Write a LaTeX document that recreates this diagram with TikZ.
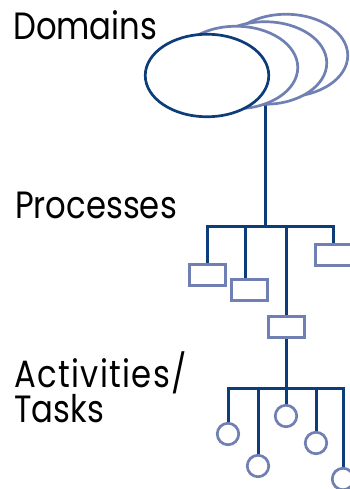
\documentclass[tikz,border=0pt]{standalone}
\usepackage{fontspec}
\setmainfont{Poppins}[FakeStretch=0.85]
\usetikzlibrary{shapes.geometric}
\pgfdeclarelayer{background}
\pgfsetlayers{background,main}
\definecolor{navy}{RGB}{12,60,122}
\definecolor{slate}{RGB}{112,128,178}
\begin{document}
\begin{tikzpicture}[x=1pt,y=-1pt,
  levellabel/.style={font=\fontsize{38}{38}\selectfont, text=black, inner sep=0pt, anchor=base west},
  domainshape/.style={ellipse, draw=slate, line width=2.7pt, fill=white, minimum width=123.5pt, minimum height=82.5pt, inner sep=0pt},
  frontdomain/.style={domainshape, draw=navy},
  procbox/.style={rectangle, draw=slate, line width=3pt, fill=white, minimum width=36pt, minimum height=21pt, inner sep=0pt},
  taskdot/.style={circle, draw=slate, line width=2.7pt, fill=white, minimum size=21.5pt, inner sep=0pt},
  link/.style={draw=navy, line width=3pt}]
\useasboundingbox (0,0) rectangle (350,489);

% level labels
\node[levellabel] (ldom) at (13,40) {Domains};
\node[levellabel] (lproc) at (15,218) {Processes};
\node[levellabel] (lact) at (14,387) {\addfontfeature{LetterSpace=3.5}Activities/};
\node[levellabel] (ltask) at (14,422) {Tasks};

% stack of domains, back to front
\node[domainshape] (d4) at (286,55.5) {};
\node[domainshape] (d3) at (265,63) {};
\node[domainshape] (d2) at (236,67.5) {};
\node[frontdomain] (d1) at (207,75.5) {};

% processes
\coordinate (pbar) at (265,226);
\node[procbox] (p1) at (207,275) {};
\node[procbox] (p2) at (249,290) {};
\node[procbox] (p3) at (286,327) {};
\node[procbox] (p4) at (333,255) {};

% activities / tasks
\coordinate (abar) at (286,388);
\node[taskdot] (a1) at (228,434) {};
\node[taskdot] (a2) at (258,466) {};
\node[taskdot] (a3) at (286,416) {};
\node[taskdot] (a4) at (316,443) {};
\node[taskdot] (a5) at (343,479) {};

\begin{pgfonlayer}{background}
  % trunk from the domain stack
  \draw[link] (d2.center -| pbar) -- (pbar);
  % process branches
  \draw[link] (p1.north) |- (pbar) -| (p4.north);
  \draw[link] ([xshift=-4pt]p2.north) -- ([xshift=-4pt]p2.north |- pbar);
  \draw[link] (p3.north) -- (p3.north |- pbar);
  % activity branches
  \draw[link] (p3.south) -- (abar);
  \draw[link] (a1.north) |- (abar) -| (a5.north);
  \draw[link] (a2.north) -- (a2.north |- abar);
  \draw[link] (a3.north) -- (abar);
  \draw[link] (a4.north) -- (a4.north |- abar);
\end{pgfonlayer}
\end{tikzpicture}
\end{document}
